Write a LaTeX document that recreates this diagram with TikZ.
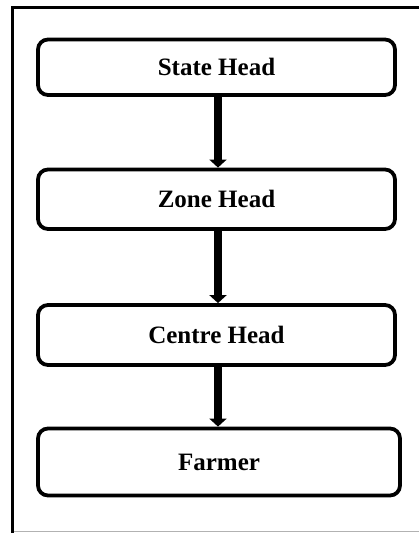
\documentclass[tikz,border=0pt]{standalone}
\usepackage{fontspec}
\setmainfont{Liberation Serif}
\usetikzlibrary{arrows.meta}
\begin{document}
\begin{tikzpicture}[x=1pt,y=-1pt,
  box/.style={draw,line width=3.8pt,rounded corners=10pt,minimum width=357pt,inner sep=0pt,font=\fontsize{25}{28}\selectfont\bfseries},
  flow/.style={line width=7.5pt,-{Triangle[width=17pt,length=8pt]}}]
\useasboundingbox (0,0) rectangle (419,533);
\fill[white] (0,0) rectangle (419,533);
\draw[gray!60,line width=1pt] (11,531) -- (419,531);
\draw[line width=3.5pt] (419,7.5) -- (12.5,7.5) -- (12.5,533);
\node[box,minimum height=55.5pt] (b1) at (216.5,67.25) {State Head};
\node[box,minimum height=59.5pt] (b2) at (216.5,199.25) {Zone Head};
\node[box,minimum height=60pt] (b3) at (216.5,335) {Centre Head};
\node[box,minimum width=362pt,minimum height=67pt] (b4) at (219,462) {Farmer};
\draw[flow] ([xshift=1.5pt,yshift=3pt]b1.south) -- ([xshift=1.5pt]b2.north);
\draw[flow] ([xshift=1.5pt,yshift=3pt]b2.south) -- ([xshift=1.5pt]b3.north);
\draw[flow] ([xshift=1.5pt,yshift=3pt]b3.south) -- ([xshift=-1pt]b4.north);
\end{tikzpicture}
\end{document}
